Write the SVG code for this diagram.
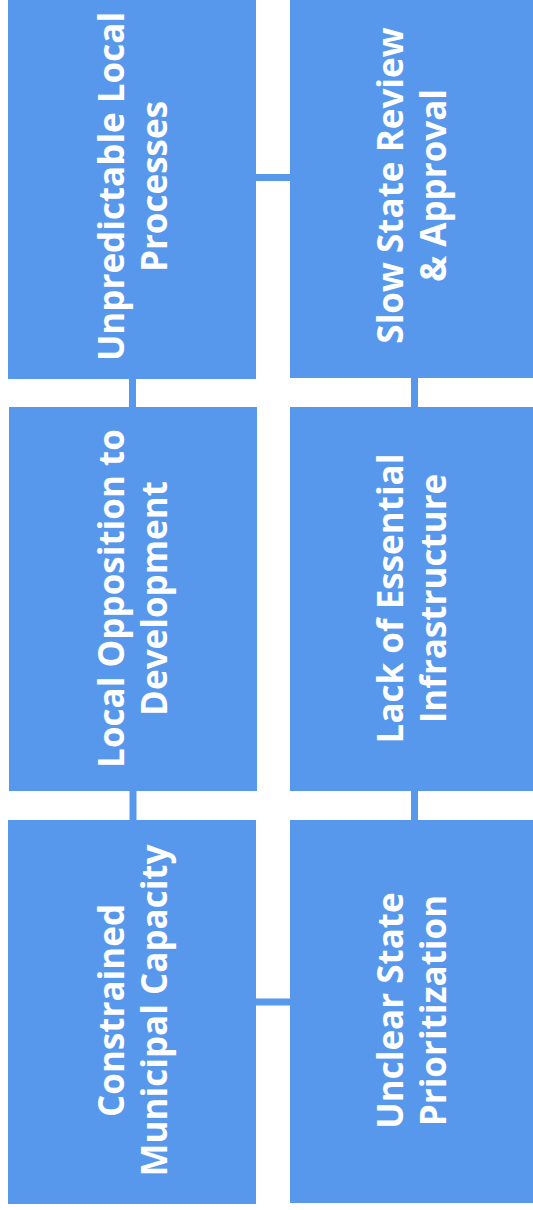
<svg xmlns="http://www.w3.org/2000/svg" width="533" height="1210" viewBox="0 0 533 1210">
<style>
.box{fill:#5798ED;}
.lbl{fill:#FFFFFF;font-family:"Open Sans","Liberation Sans",sans-serif;font-weight:700;font-size:35px;text-anchor:middle;}
.conn line{stroke:#5798ED;stroke-width:7;}
</style>
<rect width="533" height="1210" fill="#FFFFFF"/>
<g id="connectors" class="conn">
<line x1="256" y1="177.5" x2="290" y2="177.5"/>
<line x1="132.5" y1="379" x2="132.5" y2="407"/>
<line x1="414.5" y1="378" x2="414.5" y2="407"/>
<line x1="133" y1="791" x2="133" y2="820"/>
<line x1="414.5" y1="791" x2="414.5" y2="820"/>
<line x1="256" y1="1002" x2="290" y2="1002"/>
</g>
<g id="node-unpredictable">
<rect class="box" x="8" y="0" width="248" height="379"/>
<text class="lbl" transform="translate(124,186.5) rotate(-90)">Unpredictable Local</text>
<text class="lbl" transform="translate(167,186.5) rotate(-90)">Processes</text>
</g>
<g id="node-slow-state">
<rect class="box" x="290" y="0" width="243" height="378"/>
<text class="lbl" transform="translate(403,185.5) rotate(-90)">Slow State Review</text>
<text class="lbl" transform="translate(446,185.5) rotate(-90)">&amp; Approval</text>
</g>
<g id="node-local-opposition">
<rect class="box" x="9" y="407" width="248" height="384"/>
<text class="lbl" transform="translate(124,598.5) rotate(-90)">Local Opposition to</text>
<text class="lbl" transform="translate(167,598.5) rotate(-90)">Development</text>
</g>
<g id="node-infrastructure">
<rect class="box" x="290" y="407" width="243" height="384"/>
<text class="lbl" transform="translate(403,598.5) rotate(-90)">Lack of Essential</text>
<text class="lbl" transform="translate(446,598.5) rotate(-90)">Infrastructure</text>
</g>
<g id="node-municipal">
<rect class="box" x="8" y="820" width="248" height="384"/>
<text class="lbl" transform="translate(124,1010.5) rotate(-90)">Constrained</text>
<text class="lbl" transform="translate(167,1010.5) rotate(-90)">Municipal Capacity</text>
</g>
<g id="node-prioritization">
<rect class="box" x="290" y="820" width="243" height="383"/>
<text class="lbl" transform="translate(403,1010.5) rotate(-90)">Unclear State</text>
<text class="lbl" transform="translate(446,1010.5) rotate(-90)">Prioritization</text>
</g>
</svg>
